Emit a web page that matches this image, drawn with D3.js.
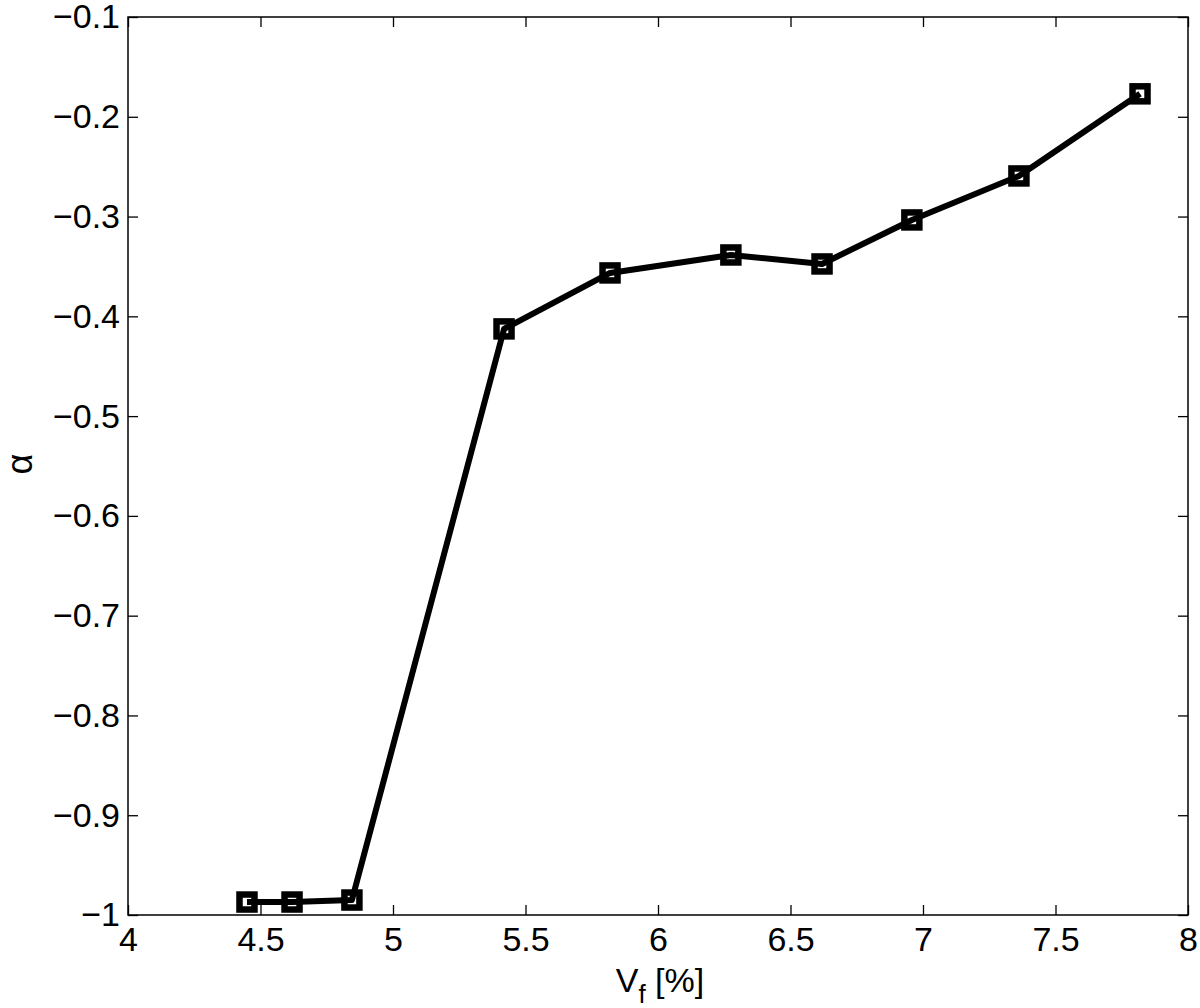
<!DOCTYPE html>
<html>
<head>
<meta charset="utf-8">
<script src="https://cdn.jsdelivr.net/npm/d3@7"></script>
<style>
  html, body { margin: 0; padding: 0; background: #ffffff; }
  text { font-family: 'Liberation Sans', Arial, Helvetica, sans-serif; }
</style>
</head>
<body>
<div id="chart"></div>
<script>
const vf = [4.449, 4.619, 4.845, 5.419, 5.819, 6.275, 6.619, 6.958, 7.362, 7.819]
const alpha = [-0.987, -0.987, -0.985, -0.4126, -0.3565, -0.3385, -0.3475, -0.3034, -0.2593, -0.177]
const xTicks = [4, 4.5, 5, 5.5, 6, 6.5, 7, 7.5, 8]
const yTicks = [-1, -0.9, -0.8, -0.7, -0.6, -0.5, -0.4, -0.3, -0.2, -0.1]

const W = 1200
const H = 1008
const margin = { left: 128, right: 12, top: 17, bottom: 93 }
const TICK = 10
const FONT = 34

const fmt = (v) => String(+v.toFixed(1)).replace('-', '\u2212')

const svg = d3.select('#chart').append('svg').attr('width', W).attr('height', H)

svg.append('rect').attr('width', W).attr('height', H).attr('fill', '#ffffff')

const x = d3.scaleLinear().domain([4, 8]).range([margin.left, W - margin.right])
const y = d3.scaleLinear().domain([-1, -0.1]).range([H - margin.bottom, margin.top])

const axisStyle = (g) => {
  g.select('.domain').remove()
  g.selectAll('.tick line').attr('stroke', '#000').attr('stroke-width', 1.3)
  g.selectAll('.tick text')
    .attr('fill', '#000')
    .attr('font-size', FONT)
    .attr('font-family', "'Liberation Sans', Arial, sans-serif")
}

// bottom axis, ticks inward
svg
  .append('g')
  .attr('transform', `translate(0 ${y(-1)})`)
  .call(d3.axisBottom(x).tickValues(xTicks).tickSizeInner(-TICK).tickSizeOuter(0).tickPadding(12).tickFormat(fmt))
  .call(axisStyle)

// top axis mirror ticks
svg
  .append('g')
  .attr('transform', `translate(0 ${y(-0.1)})`)
  .call(d3.axisTop(x).tickValues(xTicks).tickSizeInner(-TICK).tickSizeOuter(0).tickFormat(''))
  .call(axisStyle)

// left axis
svg
  .append('g')
  .attr('transform', `translate(${x(4)} 0)`)
  .call(d3.axisLeft(y).tickValues(yTicks).tickSizeInner(-TICK).tickSizeOuter(0).tickPadding(8).tickFormat(fmt))
  .call(axisStyle)

// right axis mirror ticks
svg
  .append('g')
  .attr('transform', `translate(${x(8)} 0)`)
  .call(d3.axisRight(y).tickValues(yTicks).tickSizeInner(-TICK).tickSizeOuter(0).tickFormat(''))
  .call(axisStyle)

// box
svg
  .append('rect')
  .attr('x', x(4))
  .attr('y', y(-0.1))
  .attr('width', x(8) - x(4))
  .attr('height', y(-1) - y(-0.1))
  .attr('fill', 'none')
  .attr('stroke', '#000')
  .attr('stroke-width', 1.5)

const pts = vf.map((v, i) => [v, alpha[i]])

svg
  .append('path')
  .datum(pts)
  .attr('fill', 'none')
  .attr('stroke', '#000')
  .attr('stroke-width', 6)
  .attr('stroke-linejoin', 'round')
  .attr('d', d3.line().x((d) => x(d[0])).y((d) => y(d[1])))

const M = 15
svg
  .selectAll('rect.marker')
  .data(pts)
  .join('rect')
  .attr('class', 'marker')
  .attr('x', (d) => x(d[0]) - M / 2)
  .attr('y', (d) => y(d[1]) - M / 2)
  .attr('width', M)
  .attr('height', M)
  .attr('fill', 'none')
  .attr('stroke', '#000')
  .attr('stroke-width', 6.5)

// x label with subscript
const xl = svg
  .append('text')
  .attr('x', 660)
  .attr('y', 992)
  .attr('text-anchor', 'middle')
  .attr('font-size', FONT)
  .attr('fill', '#000')
xl.append('tspan').text('V')
xl.append('tspan').attr('font-size', 26).attr('dy', 11).text('f')
xl.append('tspan').attr('dy', -11).text(' [%]')

// y label
svg
  .append('text')
  .attr('transform', `translate(32 ${(y(-1) + y(-0.1)) / 2 - 2}) rotate(-90)`)
  .attr('text-anchor', 'middle')
  .attr('font-size', 36)
  .attr('font-family', "'Liberation Serif', 'DejaVu Serif', serif")
  .attr('fill', '#000')
  .text('\u03b1')
</script>
</body>
</html>
